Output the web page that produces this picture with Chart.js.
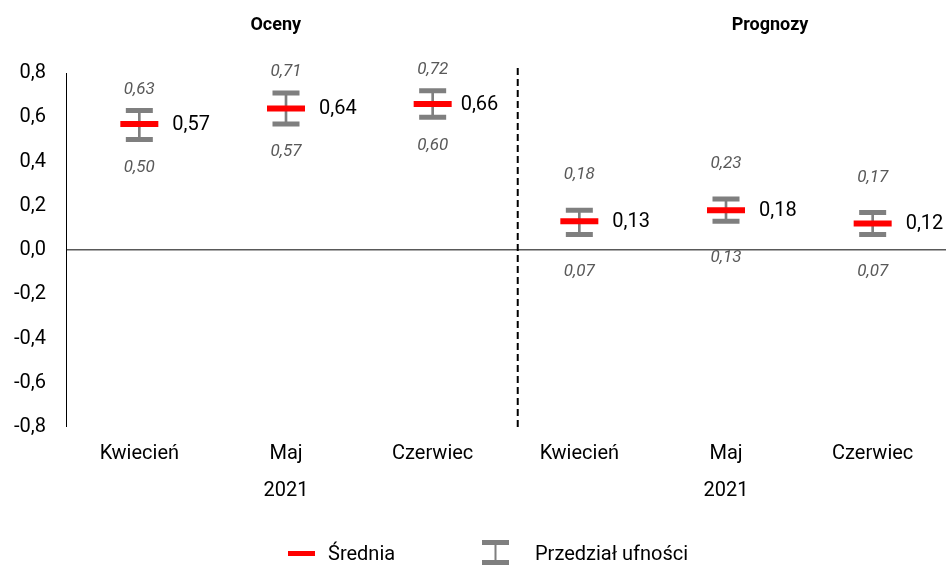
<!DOCTYPE html>
<html>
<head>
<meta charset="utf-8">
<script src="https://cdn.jsdelivr.net/npm/chart.js@4"></script>
<style>
	html, body { margin:0; padding:0; background:#fff; }
	#wrap { position:relative; width:946px; height:565px; }
</style>
</head>
<body>
<div id="wrap"><canvas id="c" width="946" height="565"></canvas></div>
<script>
const categories = ['Kwiecień', 'Maj', 'Czerwiec', 'Kwiecień', 'Maj', 'Czerwiec']
const groups = ['Oceny', 'Prognozy']
const years = ['2021', '2021']
const srednia = [0.57, 0.64, 0.66, 0.13, 0.18, 0.12]
const dolna = [0.50, 0.57, 0.60, 0.07, 0.13, 0.07]
const gorna = [0.63, 0.71, 0.72, 0.18, 0.23, 0.17]
const yTicks = [-0.8, -0.6, -0.4, -0.2, 0, 0.2, 0.4, 0.6, 0.8]

const fmt = v => v.toFixed(2).replace('.', ',')
const FONT = 'Roboto, "Noto Sans", sans-serif'
const GRAY = '#7f7f7f'

const extras = {
	id: 'extras',
	afterDatasetsDraw(chart) {
		const {ctx, scales: {x, y}, chartArea} = chart
		ctx.save()
		// linia podzialu Oceny / Prognozy
		ctx.strokeStyle = '#000'
		ctx.lineWidth = 2
		ctx.setLineDash([7, 4])
		const xd = x.getPixelForValue(2.58)
		ctx.beginPath()
		ctx.moveTo(xd, chartArea.top - 5)
		ctx.lineTo(xd, chartArea.bottom)
		ctx.stroke()
		ctx.setLineDash([])

		// etykiety wartosci
		srednia.forEach((v, i) => {
			const px = x.getPixelForValue(i)
			ctx.fillStyle = '#000'
			ctx.font = '20px ' + FONT
			ctx.textAlign = 'left'
			ctx.textBaseline = 'middle'
			ctx.fillText(fmt(v), px + (i === 2 ? 28 : 33), y.getPixelForValue(v) + 1)

			const up = i < 3 ? 21 : 35
			const dn = i < 3 ? 28 : 37
			ctx.fillStyle = '#595959'
			ctx.font = 'italic 17px ' + FONT
			ctx.textAlign = 'center'
			ctx.fillText(fmt(gorna[i]), px, y.getPixelForValue(gorna[i]) - up)
			ctx.fillText(fmt(dolna[i]), px, y.getPixelForValue(dolna[i]) + dn)
		})

		// naglowki i lata
		ctx.fillStyle = '#000'
		ctx.font = 'bold 18px ' + FONT
		ctx.textAlign = 'center'
		ctx.fillText(groups[0], x.getPixelForValue(0.93), 25)
		ctx.fillText(groups[1], x.getPixelForValue(4.3), 25)
		ctx.font = '20px ' + FONT
		ctx.fillText(years[0], x.getPixelForValue(1), 491)
		ctx.fillText(years[1], x.getPixelForValue(4), 491)

		// legenda
		ctx.fillStyle = '#f00'
		ctx.fillRect(288, 551, 27, 5)
		ctx.fillStyle = '#000'
		ctx.textAlign = 'left'
		ctx.fillText('Średnia', 328, 555)
		ctx.fillStyle = GRAY
		ctx.fillRect(482, 540, 27, 5)
		ctx.fillRect(482, 560, 27, 5)
		ctx.fillRect(494.5, 545, 2, 15)
		ctx.fillStyle = '#000'
		ctx.fillText('Przedział ufności', 535, 555)
		ctx.restore()
	}
}

new Chart(document.getElementById('c'), {
	data: {
		labels: categories,
		datasets: [
			{
				type: 'bar',
				label: 'zakres',
				data: dolna.map((d, i) => [d, gorna[i]]),
				backgroundColor: GRAY,
				barThickness: 2,
				order: 3,
			},
			{
				type: 'line',
				label: 'dolna',
				data: dolna,
				showLine: false,
				pointStyle: 'line',
				radius: 13.5,
				borderWidth: 5,
				borderColor: GRAY,
				order: 2,
			},
			{
				type: 'line',
				label: 'gorna',
				data: gorna,
				showLine: false,
				pointStyle: 'line',
				radius: 13.5,
				borderWidth: 5,
				borderColor: GRAY,
				order: 2,
			},
			{
				type: 'line',
				label: 'Średnia',
				data: srednia,
				showLine: false,
				pointStyle: 'line',
				radius: 19,
				borderWidth: 6,
				borderColor: '#f00',
				order: 1,
			},
		]
	},
	options: {
		responsive: false,
		animation: false,
		layout: { autoPadding: false, padding: { top: 73, right: 0, left: 0, bottom: 0 } },
		plugins: {
			legend: { display: false },
			tooltip: { enabled: false },
		},
		scales: {
			x: {
				grid: { display: false, drawTicks: false },
				border: { display: false },
				ticks: { color: '#000', font: { size: 20, family: FONT }, padding: 15, maxRotation: 0 },
				afterFit: s => { s.height = 138; s.paddingLeft = 0; s.paddingRight = 0 },
			},
			y: {
				min: -0.8,
				max: 0.8,
				afterBuildTicks: s => { s.ticks = yTicks.map(v => ({ value: v })) },
				afterFit: s => { s.width = 66 },
				grid: {
					drawTicks: false,
					color: c => c.tick && c.tick.value === 0 ? '#595959' : 'rgba(0,0,0,0)',
					lineWidth: c => c.tick && c.tick.value === 0 ? 1.5 : 0,
				},
				border: { display: true, color: '#000', width: 1 },
				ticks: {
					color: '#000',
					font: { size: 20, family: FONT },
					padding: 20,
					callback: v => v.toFixed(1).replace('.', ','),
				},
			}
		}
	},
	plugins: [extras]
})
</script>
</body>
</html>
